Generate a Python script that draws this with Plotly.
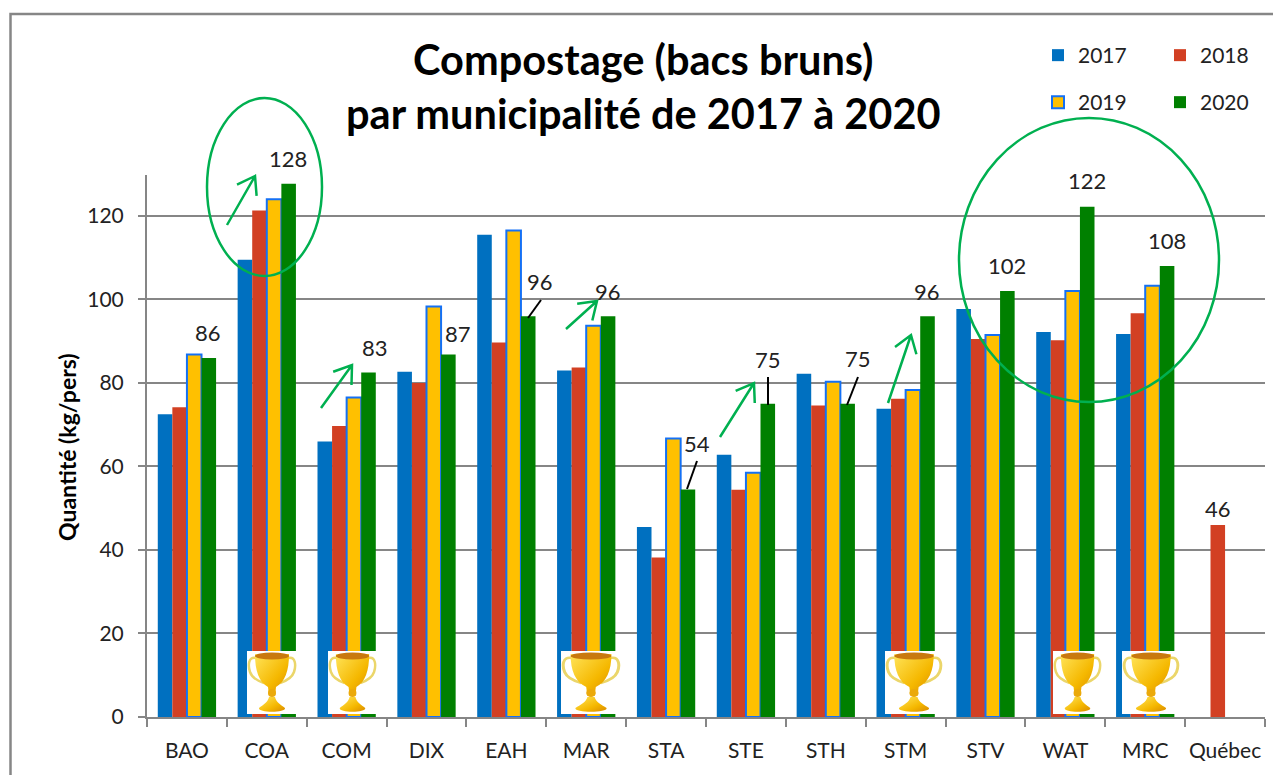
import plotly.graph_objects as go
import urllib.parse
import math

categories = ["BAO","COA","COM","DIX","EAH","MAR","STA","STE","STH","STM","STV","WAT","MRC","Québec"]
years = ["2017","2018","2019","2020"]
v2017 = [72.5,109.5,66,82.7,115.5,83,45.5,62.8,82.2,73.8,97.7,92.2,91.7,None]
v2018 = [74.2,121.3,69.7,80,89.7,83.7,38.2,54.4,74.6,76.2,90.5,90.2,96.7,46]
v2019 = [86.8,124,76.5,98.3,116.5,93.7,66.7,58.5,80.3,78.3,91.5,102,103.3,None]
v2020 = [86,127.7,82.5,86.8,96,96,54.5,75,75,96,102,122.2,108,None]
ytick_vals = [0,20,40,60,80,100,120]

W, H = 1273, 775
L, R, T, B = 147, 1265, 175, 717
GREY = "#868686"; GREEN = "#00B050"

def px(x): return (x-L)/(R-L)
def py(y): return (B-y)/(B-T)

labels = [("86",208,332),("128",288,159),("83",375,347),("87",458,333),("96",540,281),
          ("96",608,291),("54",697,443),("75",768,359),("75",858,358),("96",927,291),
          ("102",1007,265),("122",1087,181),("108",1167,240),("46",1218,508)]
leaders = [(528,318,541,300),(687,489,697,461),(768,377,768,405),(858,377,847,405)]
arrows = [(227,225,255,176),(321,408,352,365),(566,329,597,301),(720,437,754,383),(888,403,911,335)]
ellipses = [(207,98,322,276),(959,118,1219,402)]
trophies = [(247,651,50),(328,651,49),(561,651,60),(885,651,58),(1053,651,49),(1122,651,58)]
legend_pos = [(1038,35),(1160,35),(1038,82),(1160,82)]

trophy_svg = """<svg xmlns='http://www.w3.org/2000/svg' width='50' height='63' viewBox='0 0 50 63'>
<defs><linearGradient id='g' x1='0' x2='1' y1='0' y2='1'><stop offset='0' stop-color='#FFE45A'/><stop offset='0.6' stop-color='#F5B800'/><stop offset='1' stop-color='#D98A00'/></linearGradient></defs>
<rect width='50' height='63' fill='white'/>
<path d='M9 7 C1 5 1 15 3 21 C5 27 11 30 17 32' fill='none' stroke='#EBD66A' stroke-width='2.5'/>
<path d='M41 7 C49 5 49 15 47 21 C45 27 39 30 33 32' fill='none' stroke='#EBD66A' stroke-width='2.5'/>
<path d='M8 3 H42 C42 20 38 31 29 36 L28 45 H22 L21 36 C12 31 8 20 8 3 Z' fill='url(#g)'/>
<ellipse cx='25' cy='5' rx='17' ry='3.5' fill='#C9790F'/>
<circle cx='25' cy='42' r='4' fill='#EBA90A'/>
<path d='M22 46 H28 C29 51 34 54 38 57 C39 62 11 62 12 57 C16 54 21 51 22 46 Z' fill='url(#g)'/>
</svg>"""
trophy_uri = "data:image/svg+xml," + urllib.parse.quote(trophy_svg)

fig = go.Figure()
series = [(v2017,"#0070C0",None),(v2018,"#D24023",None),(v2019,"#FFC000","#1470F5"),(v2020,"#008000",None)]
legend_ids = ["legend","legend2","legend3","legend4"]
for name, (vals, col, edge), lid in zip(years, series, legend_ids):
    fig.add_bar(name=name, x=categories, y=vals, legend=lid,
                marker=dict(color=col, line=dict(color=edge or col, width=2 if edge else 0)))

shapes = []
shapes.append(dict(type="path", xref="paper", yref="paper",
    path=f"M {px(10.5)} {py(775)} L {px(10.5)} {py(14)} L {px(1273)} {py(14)}",
    line=dict(color=GREY, width=2.5), layer="below"))
for x0,y0,x1,y1 in ellipses:
    shapes.append(dict(type="circle", xref="paper", yref="paper", x0=px(x0), x1=px(x1), y0=py(y1), y1=py(y0),
                       line=dict(color=GREEN, width=2.5)))
for x0,y0,x1,y1 in leaders:
    shapes.append(dict(type="line", xref="paper", yref="paper", x0=px(x0), x1=px(x1), y0=py(y0), y1=py(y1),
                       line=dict(color="black", width=2)))
for x0,y0,x1,y1 in arrows:
    a = math.atan2(y1-y0, x1-x0); h = 20
    p1 = (x1-h*math.cos(a-0.6), y1-h*math.sin(a-0.6))
    p2 = (x1-h*math.cos(a+0.6), y1-h*math.sin(a+0.6))
    path = (f"M {px(x0)} {py(y0)} L {px(x1)} {py(y1)} "
            f"M {px(p1[0])} {py(p1[1])} L {px(x1)} {py(y1)} L {px(p2[0])} {py(p2[1])}")
    shapes.append(dict(type="path", xref="paper", yref="paper", path=path, line=dict(color=GREEN, width=2.5)))

annotations = [dict(text=t, xref="paper", yref="paper", x=px(x), y=py(y), showarrow=False,
                    xanchor="center", yanchor="middle", font=dict(family="Lato", size=22, color="#222"))
               for t,x,y in labels]
annotations.append(dict(text="Quantité (kg/pers)", xref="paper", yref="paper", x=px(67), y=py(447), textangle=-90,
                        showarrow=False, xanchor="center", yanchor="middle",
                        font=dict(family="Lato", size=23, color="black", weight="bold")))
annotations.append(dict(text="Compostage (bacs bruns)<br>par municipalité de 2017 à 2020", xref="paper", yref="paper",
                        x=px(643), y=py(86), showarrow=False, xanchor="center", yanchor="middle", align="center",
                        font=dict(family="Lato", size=41.5, color="black", weight="bold")))

images = [dict(source=trophy_uri, xref="paper", yref="paper", x=px(x), y=py(y), sizex=w/(R-L), sizey=63/(B-T),
               sizing="stretch", xanchor="left", yanchor="top", layer="above") for x,y,w in trophies]

legends = {}
for lid, (x,y) in zip(legend_ids, legend_pos):
    legends[lid] = dict(x=px(x), y=py(y), xanchor="left", yanchor="top",
                        font=dict(family="Lato", size=21, color="#222"),
                        itemsizing="constant", bgcolor="rgba(0,0,0,0)")

fig.update_layout(
    width=W, height=H, autosize=False, margin=dict(l=L,r=W-R,t=T,b=H-B,pad=0),
    paper_bgcolor="white", plot_bgcolor="white", showlegend=True,
    barmode="group", bargap=0.27, bargroupgap=0,
    font=dict(family="Lato", size=19, color="#222"),
    shapes=shapes, annotations=annotations, images=images,
    xaxis=dict(type="category", range=[-0.5,13.5], showline=True, linecolor=GREY, linewidth=2,
               ticks="outside", ticklen=8, tickwidth=2, tickcolor=GREY, tickson="boundaries", tickangle=0,
               showgrid=False, tickfont=dict(family="Lato", size=21), automargin=False, ticklabelstandoff=14),
    yaxis=dict(range=[0,129.8], tickvals=ytick_vals, showline=True, linecolor=GREY, linewidth=2,
               ticks="outside", ticklen=7, tickwidth=2, tickcolor=GREY, gridcolor=GREY, gridwidth=2,
               zeroline=False, tickfont=dict(family="Lato", size=21), automargin=False, layer="below traces",
               ticklabelstandoff=10),
    **legends,
)
fig.write_html("out.html", post_script="document.body.style.margin='0';", config={"displayModeBar": False})
